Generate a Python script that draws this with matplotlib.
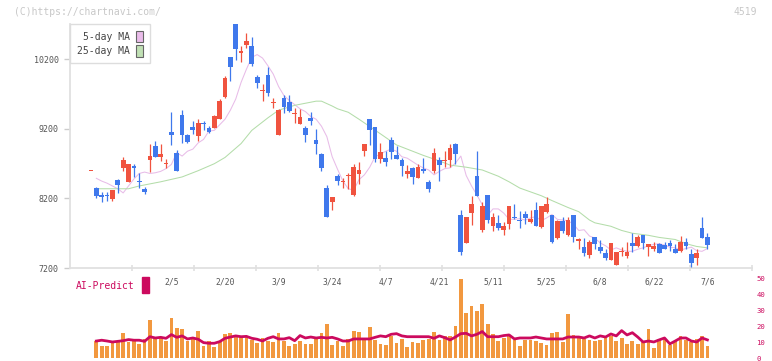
import matplotlib
matplotlib.use("Agg")
import matplotlib.pyplot as plt
import matplotlib.transforms as mtransforms
from matplotlib.patches import Patch, Rectangle
import numpy as np

plt.rcParams['font.family'] = ['DejaVu Sans Mono']

# ---- daily candles (index 0 is the lone dash at the far left) ----
opens = [8590, 8350, 8250, 8250, 8190, 8460, 8640, 8440, 8670, 8440, 8330,
         8750, 8950, 8800, 8700, 9150, 8850, 9400, 9110, 9230, 9100,
         9290, 9210, 9220, 9340, 9660, 10230, 10710, 10300, 10410, 10390,
         9950, 9750, 9970, 9570, 9120, 9640, 9590, 9420, 9270, 9210,
         9360, 9040, 8840, 8350, 8150, 8520, 8440, 8520, 8250, 8550,
         8890, 9340, 9230, 8770, 8780, 9040, 8830, 8750, 8550, 8640,
         8500, 8620, 8430, 8590, 8750, 8740, 8760, 8990, 7960, 7560,
         7990, 8530, 7750, 8250, 7800, 7850, 7750, 7830, 7940, 7890,
         7970, 7860, 8040, 7790, 8000, 7960, 7630, 7870, 7680, 7960,
         7590, 7500, 7380, 7640, 7500, 7410, 7320, 7250, 7430, 7370,
         7560, 7510, 7670, 7500, 7470, 7540, 7530, 7560, 7470, 7440,
         7580, 7400, 7350, 7770, 7640]
highs = [8590, 8360, 8300, 8290, 8320, 8480, 8790, 8690, 8700, 8560, 8370,
         8980, 9030, 8980, 8770, 9440, 8900, 9470, 9130, 9310, 9340,
         9320, 9240, 9400, 9630, 9960, 10230, 10710, 10400, 10580, 10520,
         9970, 9840, 10090, 9650, 9490, 9690, 9690, 9500, 9490, 9240,
         9450, 9200, 8860, 8400, 8220, 8550, 8490, 8560, 8700, 8730,
         8990, 9340, 9230, 9000, 8880, 9080, 8950, 8780, 8680, 8660,
         8690, 8780, 8460, 8920, 8790, 8890, 8980, 9000, 8030, 7940,
         8230, 8890, 8150, 8250, 7990, 7960, 7860, 8090, 8120, 8020,
         8020, 8040, 8150, 8090, 8220, 7960, 7890, 7930, 7940, 7960,
         7630, 7630, 7600, 7640, 7600, 7470, 7560, 7430, 7500, 7570,
         7710, 7680, 7670, 7540, 7580, 7560, 7570, 7600, 7540, 7660,
         7630, 7480, 7480, 7940, 7710]
lows = [8590, 8200, 8150, 8160, 8160, 8280, 8600, 8430, 8510, 8350, 8270,
        8580, 8800, 8740, 8640, 8970, 8600, 9000, 9000, 9130, 9030,
        9180, 9140, 9210, 9340, 9640, 9890, 10190, 10170, 10370, 10110,
        9790, 9600, 9680, 9500, 9110, 9430, 9440, 9290, 9270, 9010,
        9260, 8840, 8600, 7930, 8040, 8390, 8350, 8340, 8240, 8410,
        8810, 8970, 8730, 8710, 8670, 8770, 8770, 8530, 8490, 8410,
        8500, 8570, 8290, 8560, 8450, 8660, 8650, 8690, 7390, 7560,
        7820, 8240, 7720, 7850, 7730, 7740, 7680, 7760, 7900, 7770,
        7830, 7850, 7800, 7770, 7990, 7560, 7610, 7710, 7660, 7580,
        7470, 7370, 7340, 7480, 7410, 7310, 7310, 7250, 7370, 7350,
        7430, 7500, 7480, 7370, 7440, 7410, 7470, 7450, 7410, 7430,
        7470, 7220, 7250, 7630, 7480]
closes = [8590, 8240, 8220, 8230, 8320, 8400, 8750, 8690, 8640, 8430, 8290,
          8810, 8800, 8840, 8710, 9120, 8600, 9120, 9010, 9190, 9280,
          9270, 9160, 9390, 9600, 9930, 10090, 10350, 10320, 10460, 10130,
          9860, 9760, 9720, 9590, 9480, 9520, 9460, 9430, 9370, 9120,
          9320, 8990, 8640, 7930, 8220, 8450, 8450, 8540, 8660, 8610,
          8990, 9190, 8770, 8870, 8730, 8870, 8770, 8670, 8590, 8510,
          8660, 8590, 8340, 8850, 8680, 8760, 8920, 8840, 7430, 7940,
          8120, 8240, 8090, 7890, 7940, 7780, 7800, 8090, 7920, 7880,
          7920, 7900, 7810, 8090, 8120, 7570, 7870, 7730, 7890, 7640,
          7620, 7410, 7570, 7550, 7440, 7350, 7560, 7430, 7440, 7430,
          7510, 7640, 7560, 7540, 7510, 7410, 7480, 7510, 7410, 7570,
          7510, 7270, 7410, 7630, 7530]

# 5-day moving average, one value per candle from index 1
ma5 = [8490, 8450, 8420, 8380, 8340, 8280, 8380, 8480, 8560, 8580,
       8560, 8570, 8590, 8630, 8690, 8860, 8810, 8880, 8910, 9000,
       9050, 9170, 9180, 9260, 9340, 9470, 9630, 9870, 10060, 10230,
       10270, 10220, 10110, 9990, 9810, 9680, 9610, 9550, 9490, 9450,
       9380, 9340, 9240, 9090, 8800, 8620, 8450, 8340, 8320, 8470,
       8540, 8650, 8800, 8840, 8880, 8910, 8880, 8800, 8780, 8730,
       8680, 8640, 8610, 8540, 8590, 8630, 8640, 8710, 8810, 8530,
       8380, 8250, 8110, 7960, 8050, 8050, 7990, 7900, 7900, 7910,
       7890, 7920, 7940, 7880, 7920, 7970, 7900, 7890, 7880, 7830,
       7740, 7750, 7660, 7630, 7560, 7520, 7460, 7490, 7460, 7440,
       7440, 7470, 7490, 7520, 7540, 7550, 7530, 7500, 7490, 7460,
       7480, 7500, 7450, 7440, 7480]

# 25-day moving average, read at these candle indices
ma25_idx = [1, 7, 9, 13, 17, 20, 23, 25, 28, 30, 32, 33, 35, 38, 40, 42, 43,
            45, 46, 48, 50, 54, 57, 60, 62, 65, 67, 70, 73, 76, 78, 80, 84,
            86, 89, 91, 93, 94, 97, 99, 101, 104, 106, 109, 111, 113, 115]
ma25 = [8340, 8340, 8380, 8440, 8510, 8600, 8700, 8790, 8990, 9180, 9300,
        9360, 9470, 9540, 9570, 9600, 9600, 9530, 9490, 9440, 9340, 9130,
        8970, 8880, 8820, 8740, 8680, 8650, 8610, 8520, 8440, 8350, 8240,
        8170, 8070, 8010, 7890, 7850, 7800, 7740, 7700, 7670, 7640, 7610,
        7550, 7510, 7490]

# lower panel: volume bars and AI-Predict line, index 1..115
volume = [10.8, 7.7, 7.7, 9.4, 10.2, 15.8, 10.2, 10.8, 9.0, 11.9,
          24.0, 13.5, 13.5, 10.8, 25.2, 19.2, 18.3, 10.8, 11.9, 17.1,
          7.7, 10.8, 7.1, 10.8, 15.2, 15.8, 14.2, 13.3, 13.3, 11.5,
          9.6, 12.5, 10.8, 10.2, 15.8, 10.8, 7.7, 9.0, 10.8, 9.0,
          9.0, 12.1, 15.8, 21.5, 8.3, 10.8, 7.7, 12.1, 17.1, 16.5,
          12.1, 19.6, 11.5, 9.0, 8.3, 14.0, 9.6, 12.1, 7.1, 10.2,
          9.6, 11.5, 12.1, 16.5, 11.5, 14.0, 14.0, 20.2, 49.6, 28.3,
          32.7, 29.6, 34.0, 21.5, 15.2, 10.8, 12.7, 14.5, 11.5, 7.7,
          11.5, 11.5, 10.8, 9.6, 8.3, 15.8, 16.5, 10.2, 27.7, 14.6,
          14.0, 12.1, 11.5, 10.8, 11.5, 12.7, 14.0, 10.8, 12.7, 9.0,
          10.8, 9.0, 10.8, 18.3, 6.5, 12.1, 12.1, 8.3, 10.8, 14.0,
          11.5, 10.2, 12.1, 14.0, 7.7]
ai_predict = [10.8, 11.3, 10.8, 10.2, 10.6, 11.0, 11.7, 11.3, 11.3, 10.6,
              13.5, 12.7, 13.1, 12.5, 14.8, 13.1, 14.0, 12.1, 12.7, 11.9,
              9.8, 9.4, 9.4, 10.4, 12.5, 13.3, 14.0, 13.5, 13.7, 12.5,
              11.9, 10.8, 12.5, 13.5, 12.1, 12.1, 12.9, 11.0, 14.2, 12.7,
              13.3, 12.7, 13.1, 12.7, 13.1, 12.1, 10.8, 10.8, 12.1, 12.1,
              12.1, 12.1, 13.1, 14.0, 13.5, 15.0, 15.4, 14.0, 13.5, 13.5,
              13.5, 13.5, 13.5, 12.5, 14.0, 12.9, 11.5, 13.3, 15.4, 15.6,
              14.0, 15.0, 16.7, 13.5, 13.5, 13.5, 14.2, 14.6, 12.1, 12.7,
              12.7, 12.7, 13.3, 12.7, 12.1, 12.1, 12.1, 12.1, 13.3, 13.3,
              13.3, 12.7, 14.0, 12.7, 14.0, 13.3, 15.2, 14.0, 17.3, 14.6,
              16.0, 13.3, 10.2, 10.8, 10.2, 11.5, 12.7, 9.0, 10.8, 12.7,
              12.7, 10.8, 10.2, 12.7, 11.5]

date_labels = ["2/5", "2/20", "3/9", "3/24", "4/7", "4/21", "5/11",
               "5/25", "6/8", "6/22", "7/6"]
date_idx = [15, 25, 35, 45, 55, 65, 75, 85, 95, 105, 115]

RED = "#f0533f"
BLUE = "#3f78ec"
PINK = "#e8bce8"
GREEN = "#b4ddaa"
ORANGE = "#f2983f"
CRIMSON = "#cc0a5e"
AXIS = "#e0e0e0"

W, H = 772, 361
fig = plt.figure(figsize=(W / 100, H / 100), dpi=100)


def box(x0, y0, x1, y1):
    return [x0 / W, 1 - y1 / H, (x1 - x0) / W, (y1 - y0) / H]


# candle index -> pixel: x = 91 + 5.36 * i
xmin = (70 - 91) / 5.36
xmax = (752 - 91) / 5.36

ax = fig.add_axes(box(70, 24, 752, 268))
ax2 = fig.add_axes(box(70, 278.3, 752, 358.3))

o = np.array(opens, dtype=float)
c = np.array(closes, dtype=float)
idx = np.arange(len(o))
colors = [RED if cc >= oo else BLUE for oo, cc in zip(o, c)]

ax.vlines(idx, lows, highs, colors=colors, lw=0.9, zorder=3)
ax.bar(idx, np.maximum(np.abs(c - o), 15), bottom=np.minimum(o, c),
       width=0.88, color=colors, lw=0, zorder=3)

ax.plot(np.arange(1, len(ma5) + 1), ma5, color=PINK, lw=0.75, zorder=2)
ax.plot(ma25_idx, ma25, color=GREEN, lw=0.75, zorder=2)

ax.set_xlim(xmin, xmax)
ax.set_ylim(7200, 10710)
for s in ['top', 'right']:
    ax.spines[s].set_visible(False)
for s in ['left', 'bottom']:
    ax.spines[s].set_color(AXIS)
    ax.spines[s].set_linewidth(1.3)
ax.set_yticks([7200, 8200, 9200, 10200])
ax.tick_params(axis='y', length=4, width=1, color='#cccccc', pad=4,
               labelsize=6, labelcolor='#555555')
ax.set_xticks(np.linspace(xmin, xmax, 12)[1:])
ax.tick_params(axis='x', direction='inout', length=4, width=1.2,
               color=AXIS, labelbottom=False)

handles = [Patch(facecolor='#eabcea', edgecolor='#666666', lw=0.8, label='5-day MA'),
           Patch(facecolor='#c0e0b4', edgecolor='#666666', lw=0.8, label='25-day MA')]
leg = ax.legend(handles=handles, loc='upper left', bbox_to_anchor=(0, 1),
                borderaxespad=0, markerfirst=False, prop={'size': 7},
                handlelength=0.7, handleheight=1.45, handletextpad=0.7,
                labelspacing=0.28, borderpad=0.7, fancybox=False,
                edgecolor='#dddddd', framealpha=1, labelcolor='#444444')
leg.get_frame().set_linewidth(1.0)

# lower panel
vi = np.arange(1, len(volume) + 1)
ax2.bar(vi, volume, width=0.7, color=ORANGE, lw=0, zorder=2)
ax2.plot(vi, ai_predict, color=CRIMSON, lw=2.0, zorder=3)
ax2.set_xlim(xmin, xmax)
ax2.set_ylim(0, 50)
ax2.patch.set_alpha(0)
for s in ax2.spines.values():
    s.set_visible(False)
ax2.set_xticks([])
ax2.yaxis.tick_right()
ax2.set_yticks([0, 10, 20, 30, 40, 50])
ax2.tick_params(axis='y', length=0, pad=3, labelsize=5.2, labelcolor=CRIMSON)

tr = mtransforms.blended_transform_factory(ax2.transData, ax2.transAxes)
for pos, lab in zip(date_idx, date_labels):
    ax2.text(pos, 0.955, lab, transform=tr, ha='center', va='center',
             fontsize=5.8, color='#555555')

fig.text(76 / W, 1 - 286 / H, "AI-Predict", color=CRIMSON, fontsize=7,
         va='center', ha='left')
fig.patches.append(Rectangle((142 / W, 1 - 293 / H), 7 / W, 16 / H,
                             transform=fig.transFigure, color=CRIMSON))

fig.text(14 / W, 1 - 12 / H, "(C)https://chartnavi.com/", color='#c8c8c8',
         fontsize=7, va='center', ha='left')
fig.text(757 / W, 1 - 12 / H, "4519", color='#c8c8c8', fontsize=7,
         va='center', ha='right')

fig.savefig("out.png", dpi=100)
